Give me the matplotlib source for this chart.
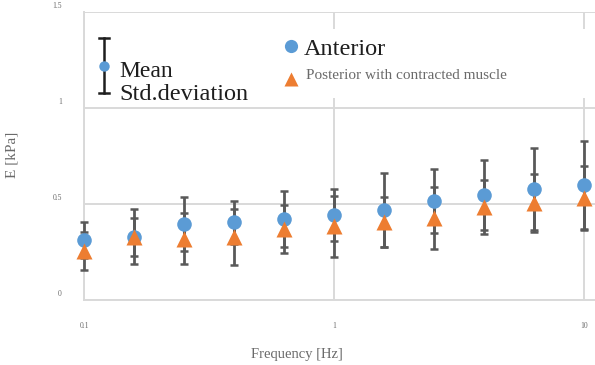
import numpy as np
import matplotlib
matplotlib.use("Agg")
import matplotlib.pyplot as plt
from matplotlib.transforms import ScaledTranslation

# ---- data ----
freq = 10 ** np.linspace(-1, 1, 11)          # 0.1 ... 10 Hz, 0.2-decade steps
ant_mean = [0.313, 0.330, 0.394, 0.405, 0.422, 0.443, 0.469, 0.516, 0.547, 0.578, 0.599]
ant_std = [0.094, 0.143, 0.141, 0.113, 0.146, 0.134, 0.192, 0.167, 0.184, 0.212, 0.231]
pos_mean = [0.257, 0.328, 0.318, 0.328, 0.370, 0.385, 0.406, 0.427, 0.484, 0.505, 0.531]
pos_std = [0.099, 0.099, 0.133, 0.144, 0.124, 0.159, 0.128, 0.160, 0.141, 0.153, 0.169]
y_ticks = [0, 0.5, 1.0, 1.5]
x_ticks = [0.1, 1, 10]
x_ticklabels = ["0.1", "1", "10"]

BLUE, ORANGE, BAR, GRID, INK, FAINT = "#5b9bd5", "#ed7d31", "#595959", "#d9d9d9", "#1e1e1e", "#6a6a6a"
plt.rcParams["font.family"] = ["Liberation Serif", "DejaVu Serif"]

W, H = 595, 365
fig = plt.figure(figsize=(W / 100, H / 100), dpi=100)
L, R, T, B = 84, 595, 12, 300
ax = fig.add_axes([L / W, 1 - B / H, (R - L) / W, (B - T) / H])

ax.set_xscale("log")
ax.set_xlim(0.1, 10 ** (-1 + (R - L) / 250))
ax.set_ylim(0, 1.5)
ax.set_xticks(x_ticks)
ax.set_xticklabels(x_ticklabels)
ax.minorticks_off()
ax.set_yticks(y_ticks)
ax.set_yticklabels(["%g" % v for v in y_ticks])
ax.grid(True, color=GRID, lw=1.4)
ax.set_axisbelow(True)
for s in ["top", "right"]:
    ax.spines[s].set_visible(False)
for s in ["left", "bottom"]:
    ax.spines[s].set_color(GRID)
    ax.spines[s].set_linewidth(1.4)
ax.tick_params(length=0, labelsize=5.5, labelcolor=FAINT)
ax.tick_params(axis="x", pad=16)
ax.tick_params(axis="y", pad=16)
for lab in ax.get_yticklabels():
    lab.set_transform(lab.get_transform() + ScaledTranslation(0, 0.07, fig.dpi_scale_trans))

# error bars under the markers
kw = dict(fmt="none", ecolor=BAR, elinewidth=2.0, capsize=3.2, capthick=1.8, clip_on=False, zorder=3)
ax.errorbar(freq, ant_mean, yerr=ant_std, **kw)
ax.errorbar(freq, pos_mean, yerr=pos_std, **kw)
ax.plot(freq, ant_mean, "o", color=BLUE, ms=10.5, mec="none", clip_on=False, zorder=4)
ax.plot(freq, pos_mean, "^", color=ORANGE, ms=11.5, mec="none", clip_on=False, zorder=5)

ax.set_xlabel("Frequency [Hz]", fontsize=10.5, color=FAINT)
ax.xaxis.set_label_coords((297 - L) / (R - L), (B - 348) / (B - T))
ax.set_ylabel("E [kPa]", fontsize=11, color=FAINT)
ax.yaxis.set_label_coords((18 - L) / (R - L), (B - 155) / (B - T))

# legend area (white box hiding the gridlines)
def fx(px):
    return px / W
def fy(py):
    return 1 - py / H
fig.add_artist(plt.Rectangle((fx(90), fy(98)), fx(595) - fx(90), fy(29) - fy(98),
                             transform=fig.transFigure, fc="white", ec="none", zorder=2))
# mean / std icon
fig.add_artist(plt.Line2D([fx(104), fx(104)], [fy(38), fy(93)], color=INK, lw=1.8,
                          transform=fig.transFigure, zorder=3))
for yy in (38, 93):
    fig.add_artist(plt.Line2D([fx(99), fx(109)], [fy(yy), fy(yy)], color=INK, lw=1.8,
                              transform=fig.transFigure, zorder=3))
fig.add_artist(plt.Line2D([fx(104)], [fy(66)], marker="o", ms=7.5, color=BLUE, mec="none",
                          transform=fig.transFigure, zorder=4))
fig.text(fx(119), fy(77), "Mean", fontsize=17, color=INK, va="baseline", zorder=4)
fig.text(fx(119), fy(100), "Std.deviation", fontsize=17.5, color=INK, va="baseline", zorder=4)
# series legend
fig.add_artist(plt.Line2D([fx(291)], [fy(46)], marker="o", ms=9.5, color=BLUE, mec="none",
                          transform=fig.transFigure, zorder=4))
fig.add_artist(plt.Line2D([fx(291)], [fy(79)], marker="^", ms=10, color=ORANGE, mec="none",
                          transform=fig.transFigure, zorder=4))
fig.text(fx(304), fy(55), "Anterior", fontsize=17.5, color=INK, va="baseline", zorder=4)
fig.text(fx(306), fy(79), "Posterior with contracted muscle", fontsize=11, color=FAINT,
         va="baseline", zorder=4)

fig.savefig("out.png", dpi=100, facecolor="white")
